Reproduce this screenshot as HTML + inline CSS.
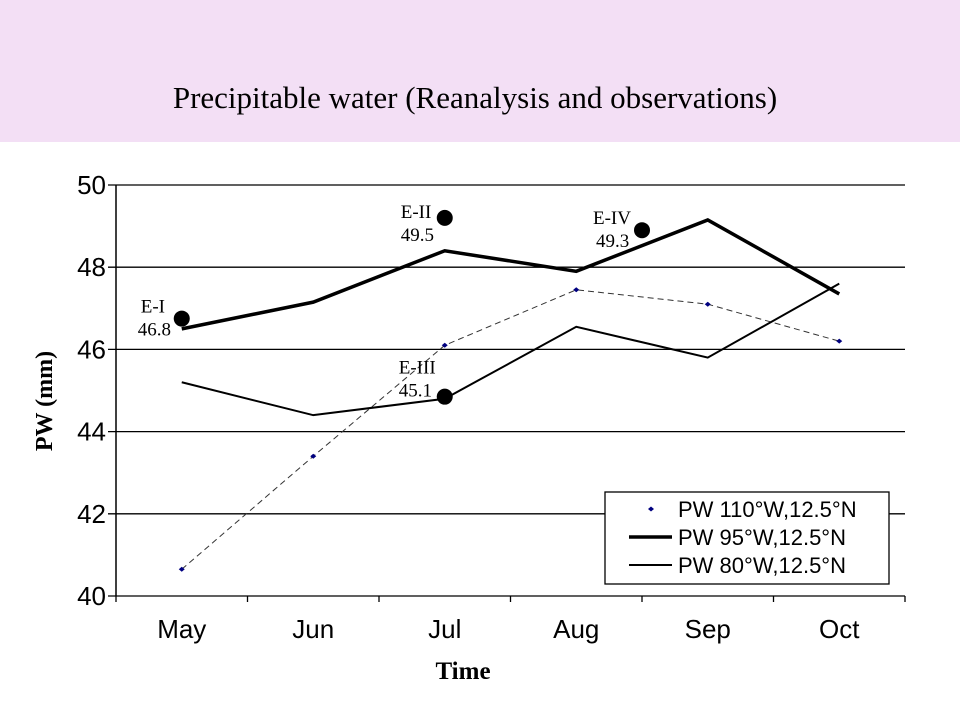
<!DOCTYPE html>
<html><head><meta charset="utf-8"><style>
body{margin:0;background:#fff;}
svg{display:block;}
</style></head><body>
<svg width="960" height="720" xmlns="http://www.w3.org/2000/svg">
<rect x="0" y="0" width="960" height="142" fill="#f3dff5"/>
<text x="475" y="108" font-family="Liberation Serif, serif" font-size="31" text-anchor="middle">Precipitable water (Reanalysis and observations)</text>
<g id="plot"></g>
<text x="52" y="401" font-family="Liberation Serif, serif" font-size="24" font-weight="bold" text-anchor="middle" transform="rotate(-90 52 401)">PW (mm)</text>
<text x="463" y="679" font-family="Liberation Serif, serif" font-size="25" font-weight="bold" text-anchor="middle">Time</text>
</svg>
<script>
const categories=["May","Jun","Jul","Aug","Sep","Oct"];
const yTicks=[40,42,44,46,48,50];
const s110=[40.65,43.4,46.1,47.45,47.1,46.2];
const s95=[46.5,47.15,48.4,47.9,49.15,47.35];
const s80=[45.2,44.4,44.8,46.55,45.8,47.6];
const events=["E-I","E-II","E-III","E-IV"];
const eventVals=["46.8","49.5","45.1","49.3"];
const eventPos=[0,2,2,3.5];
const eventY=[46.75,49.2,44.85,48.9];

const NS="http://www.w3.org/2000/svg";
const g=document.getElementById('plot');
const X0=116,X1=905,Y0=596,Y1=185;
const bw=(X1-X0)/categories.length;
const xs=i=>X0+bw*(i+0.5);
const ys=v=>Y0-(v-40)/10*(Y0-Y1);
function mk(t,a){const e=document.createElementNS(NS,t);for(const k in a)e.setAttribute(k,a[k]);g.appendChild(e);return e;}

yTicks.forEach(v=>{
  const l=mk('line',{x1:108,x2:X1,y1:ys(v),y2:ys(v),stroke:'#000','stroke-width':1.3});
  
  
  const t=mk('text',{x:106,y:ys(v)+9,'text-anchor':'end','font-family':'Liberation Sans, sans-serif','font-size':26});
  t.textContent=v;
  
  
});
const ax=mk('line',{x1:X0,x2:X0,y1:Y1,y2:Y0,stroke:'#000','stroke-width':1.5});


for(let i=0;i<=categories.length;i++){
  const l=mk('line',{x1:X0+bw*i,x2:X0+bw*i,y1:Y0,y2:Y0+6,stroke:'#000','stroke-width':1.3});
  
  
}
categories.forEach((c,i)=>{
  const t=mk('text',{x:xs(i),y:638,'text-anchor':'middle','font-family':'Liberation Sans, sans-serif','font-size':26});
  t.textContent=c;
  
  
});
function pts(s){return s.map((v,i)=>xs(i)+','+ys(v)).join(' ');}
const l110=mk('polyline',{points:pts(s110),fill:'none',stroke:'#333','stroke-width':1,'stroke-dasharray':'6,4'});


s110.forEach((v,i)=>{
  const p=mk('path',{d:`M${xs(i)-3},${ys(v)} L${xs(i)},${ys(v)-2.5} L${xs(i)+3},${ys(v)} L${xs(i)},${ys(v)+2.5}Z`,fill:'#000080'});
  
  
});
const l95=mk('polyline',{points:pts(s95),fill:'none',stroke:'#000','stroke-width':3.5});


const l80=mk('polyline',{points:pts(s80),fill:'none',stroke:'#000','stroke-width':2});


const lblOff=[[-41,-6,-44],[-44,0,-44],[-46,-23,-46],[-49,-6,-46]];
events.forEach((e,i)=>{
  const cx=xs(eventPos[i]),cy=ys(eventY[i]);
  const c=mk('circle',{cx:cx,cy:cy,r:8,fill:'#000'});
  
  
  const o=lblOff[i];
  const t1=mk('text',{x:cx+o[0],y:cy+o[1],'font-family':'Liberation Serif, serif','font-size':19});
  t1.textContent=e;
  
  
  const t2=mk('text',{x:cx+o[2],y:cy+o[1]+23,'font-family':'Liberation Serif, serif','font-size':19});
  t2.textContent=eventVals[i];
  
  
});
// legend
const lg=mk('rect',{x:605,y:492,width:284,height:92,fill:'#fff',stroke:'#000','stroke-width':1.3});


const names=["PW 110°W,12.5°N","PW 95°W,12.5°N","PW 80°W,12.5°N"];
names.forEach((n,i)=>{
  const y=509+i*28;
  if(i==0){
    const p=mk('path',{d:`M648,${y} L651,${y-2.5} L654,${y} L651,${y+2.5}Z`,fill:'#000080'});
    
    
  } else {
    const l=mk('line',{x1:629,x2:672,y1:y,y2:y,stroke:'#000','stroke-width':i==1?3.5:2});
    
    
  }
  const t=mk('text',{x:678,y:y+8,'font-family':'Liberation Sans, sans-serif','font-size':22});
  t.textContent=n;
  
  
});
</script>
</body></html>
